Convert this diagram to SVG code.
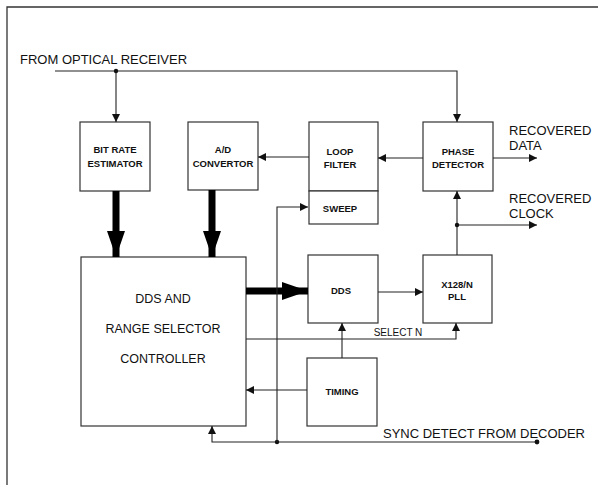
<svg xmlns="http://www.w3.org/2000/svg" width="598" height="485" viewBox="0 0 598 485">
<defs>
<marker id="ah" viewBox="0 0 10 10" refX="10" refY="5" markerWidth="8" markerHeight="8" markerUnits="userSpaceOnUse" orient="auto">
<path d="M0,0 L10,5 L0,10 z" fill="#111"/>
</marker>
<marker id="big" viewBox="0 0 10 10" refX="10" refY="5" markerWidth="26" markerHeight="18" markerUnits="userSpaceOnUse" orient="auto" preserveAspectRatio="none">
<path d="M0,0 L10,5 L0,10 z" fill="#000"/>
</marker>
</defs>
<style>
.box{fill:#fff;stroke:#333;stroke-width:1.2}
.ln{fill:none;stroke:#222;stroke-width:1.1}
.thick{fill:none;stroke:#000;stroke-width:7}
.lbl{font-family:"Liberation Sans",Arial,sans-serif;font-size:9.5px;font-weight:bold;fill:#111;text-anchor:middle}
.big{font-family:"Liberation Sans",Arial,sans-serif;font-size:13px;fill:#111}
.ctl{font-family:"Liberation Sans",Arial,sans-serif;font-size:12.5px;fill:#111;text-anchor:middle}
.dot{fill:#111}
</style>
<rect width="598" height="485" fill="#fff"/>
<path d="M7,485 L7,7 L598,7" fill="none" stroke="#333" stroke-width="1.3"/>

<g id="bit-rate-estimator">
<rect class="box" x="80" y="122" width="70" height="69"/>
<text class="lbl" x="115" y="153">BIT RATE</text>
<text class="lbl" x="115" y="167">ESTIMATOR</text>
</g>
<g id="ad-convertor">
<rect class="box" x="188" y="122" width="70" height="68"/>
<text class="lbl" x="223" y="153">A/D</text>
<text class="lbl" x="223" y="167">CONVERTOR</text>
</g>
<g id="loop-filter">
<rect class="box" x="309" y="122" width="69" height="69"/>
<text class="lbl" x="340" y="155">LOOP</text>
<text class="lbl" x="340" y="168">FILTER</text>
</g>
<g id="sweep">
<rect class="box" x="309" y="191" width="69" height="33"/>
<text class="lbl" x="340" y="212">SWEEP</text>
</g>
<g id="phase-detector">
<rect class="box" x="423" y="122" width="70" height="69"/>
<text class="lbl" x="458" y="155">PHASE</text>
<text class="lbl" x="458" y="168">DETECTOR</text>
</g>
<g id="controller">
<rect class="box" x="81" y="257" width="165" height="169"/>
<text class="ctl" x="163" y="303">DDS AND</text>
<text class="ctl" x="163" y="333">RANGE SELECTOR</text>
<text class="ctl" x="163" y="363">CONTROLLER</text>
</g>
<g id="dds">
<rect class="box" x="308" y="255" width="70" height="68"/>
<text class="lbl" x="341" y="294">DDS</text>
</g>
<g id="pll">
<rect class="box" x="423" y="255" width="69" height="68"/>
<text class="lbl" x="457" y="288">X128/N</text>
<text class="lbl" x="457" y="300">PLL</text>
</g>
<g id="timing">
<rect class="box" x="307" y="358" width="70" height="68"/>
<text class="lbl" x="342" y="395">TIMING</text>
</g>

<g id="labels">
<text class="big" x="20" y="64">FROM OPTICAL RECEIVER</text>
<text class="big" x="509" y="135">RECOVERED</text>
<text class="big" x="509" y="150">DATA</text>
<text class="big" x="509" y="203">RECOVERED</text>
<text class="big" x="509" y="218">CLOCK</text>
<text class="big" x="383" y="438">SYNC DETECT FROM DECODER</text>
<text class="lbl" x="398" y="336" style="font-weight:normal;font-size:10px">SELECT N</text>
</g>

<g id="connectors">
<path class="ln" d="M55,71 L457,71 L457,122" marker-end="url(#ah)"/>
<path class="ln" d="M116,71 L116,122" marker-end="url(#ah)"/>
<circle class="dot" cx="116" cy="71" r="2.2"/>
<path class="ln" d="M423,158 L378,158" marker-end="url(#ah)"/>
<path class="ln" d="M309,157 L258,157" marker-end="url(#ah)"/>
<path class="ln" d="M493,158 L537,158" marker-end="url(#ah)"/>
<path class="ln" d="M457,255 L457,191" marker-end="url(#ah)"/>
<path class="ln" d="M457,225 L537,225" marker-end="url(#ah)"/>
<circle class="dot" cx="457" cy="225" r="2.2"/>
<path class="thick" d="M116,191 L116,257" marker-end="url(#big)"/>
<path class="thick" d="M212,190 L212,257" marker-end="url(#big)"/>
<path class="thick" d="M246,291 L308,291" marker-end="url(#big)"/>
<path class="ln" d="M378,292 L423,292" marker-end="url(#ah)"/>
<path class="ln" d="M246,339 L456,339 L456,323" marker-end="url(#ah)"/>
<path class="ln" d="M342,358 L342,323" marker-end="url(#ah)"/>
<path class="ln" d="M307,390 L246,390" marker-end="url(#ah)"/>
<path class="ln" d="M537,442 L212,442 L212,426" marker-end="url(#ah)"/>
<circle class="dot" cx="537" cy="442" r="2.4"/>
<circle class="dot" cx="277" cy="442" r="2.2"/>
<path class="ln" d="M277,442 L277,207 L308,207" marker-end="url(#ah)"/>
</g>
</svg>
